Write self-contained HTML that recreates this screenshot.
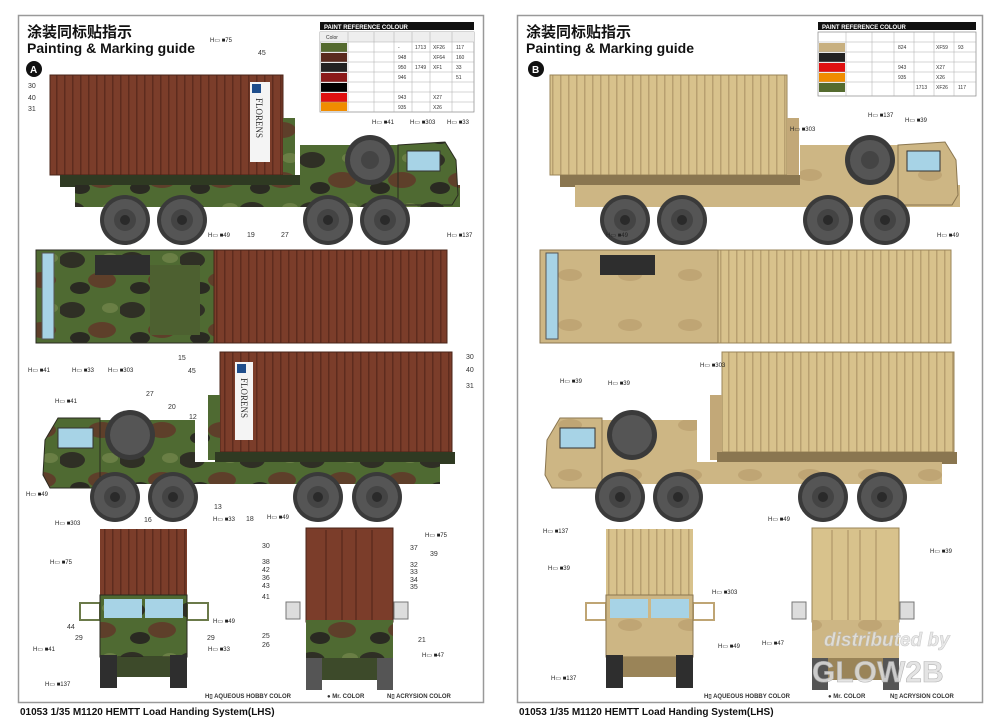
<!DOCTYPE html>
<html><head><meta charset="utf-8"><style>
html,body{margin:0;padding:0;background:#fff;}
svg{display:block;font-family:"Liberation Sans","Noto Sans CJK SC",sans-serif;}
.lbl{font-size:7px;fill:#333}
</style></head><body>
<svg width="1000" height="719" viewBox="0 0 1000 719" xmlns="http://www.w3.org/2000/svg">
<defs>
<pattern id="camo" width="60" height="50" patternUnits="userSpaceOnUse">
<rect width="60" height="50" fill="#4f6a32"/>
<ellipse cx="12" cy="10" rx="13" ry="8" fill="#2f2f25"/>
<ellipse cx="42" cy="30" rx="14" ry="8" fill="#5e3f2a"/>
<ellipse cx="20" cy="38" rx="10" ry="6" fill="#2a2a22"/>
<ellipse cx="50" cy="8" rx="8" ry="5" fill="#6a7f45"/>
</pattern>
<pattern id="ribB" width="8" height="10" patternUnits="userSpaceOnUse">
<rect width="8" height="10" fill="#7b3d2a"/><rect x="0" width="1.5" height="10" fill="#5e2c1e"/></pattern>
<pattern id="ribT" width="8" height="10" patternUnits="userSpaceOnUse">
<rect width="8" height="10" fill="#d8c28c"/><rect x="0" width="1.5" height="10" fill="#b8a070"/></pattern>
<pattern id="tan" width="60" height="50" patternUnits="userSpaceOnUse">
<rect width="60" height="50" fill="#cdb684"/><ellipse cx="30" cy="25" rx="12" ry="6" fill="#bfa574"/></pattern>
<g id="wheel"><circle r="25" fill="#3a3a3a"/><circle r="21" fill="#555"/><circle r="11" fill="#444"/><circle r="5" fill="#2a2a2a"/></g>
</defs>

<rect x="18.5" y="15.5" width="465" height="687" fill="#fff" stroke="#999" stroke-width="1.5"/>
<rect x="517.5" y="15.5" width="465" height="687" fill="#fff" stroke="#999" stroke-width="1.5"/>

<!-- ======== LEFT PAGE ======== -->
<text x="27" y="37" font-size="15" font-weight="bold" fill="#111">涂装同标贴指示</text>
<text x="27" y="53" font-size="14" font-weight="bold" fill="#111">Painting &amp; Marking guide</text>
<circle cx="34" cy="69" r="8" fill="#111"/><text x="30" y="73" font-size="10" font-weight="bold" fill="#fff">A</text>
<g transform="translate(320,22)">
<rect width="154" height="8" fill="#111"/><text x="4" y="7" font-size="6" font-weight="bold" fill="#fff">PAINT REFERENCE COLOUR</text>
<rect y="10" width="154" height="80" fill="#fff" stroke="#888" stroke-width=".7"/>
<rect y="10" width="154" height="10" fill="#eee"/>
<rect x="1" y="21" width="26" height="9" fill="#556b2f"/>
<rect x="1" y="31" width="26" height="9" fill="#5a2a1e"/>
<rect x="1" y="41" width="26" height="9" fill="#222"/>
<rect x="1" y="51" width="26" height="9" fill="#8b1a1a"/>
<rect x="1" y="61" width="26" height="9" fill="#000"/>
<rect x="1" y="71" width="26" height="9" fill="#e01010"/>
<rect x="1" y="80" width="26" height="9" fill="#f08c00"/>
<g stroke="#aaa" stroke-width=".5"><line x1="0" y1="20" x2="154" y2="20"/><line x1="0" y1="30" x2="154" y2="30"/><line x1="0" y1="40" x2="154" y2="40"/><line x1="0" y1="50" x2="154" y2="50"/><line x1="0" y1="60" x2="154" y2="60"/><line x1="0" y1="70" x2="154" y2="70"/><line x1="0" y1="80" x2="154" y2="80"/>
<line x1="28" y1="10" x2="28" y2="90"/><line x1="54" y1="10" x2="54" y2="90"/><line x1="74" y1="10" x2="74" y2="90"/><line x1="92" y1="10" x2="92" y2="90"/><line x1="110" y1="10" x2="110" y2="90"/><line x1="132" y1="10" x2="132" y2="90"/></g>
<g font-size="5" fill="#333"><text x="6" y="17">Color</text><text x="78" y="27">-</text><text x="95" y="27">1713</text><text x="113" y="27">XF26</text><text x="136" y="27">117</text>
<text x="78" y="37">948</text><text x="113" y="37">XF64</text><text x="136" y="37">160</text><text x="78" y="47">950</text><text x="95" y="47">1749</text><text x="113" y="47">XF1</text><text x="136" y="47">33</text>
<text x="78" y="57">946</text><text x="136" y="57">51</text><text x="78" y="77">943</text><text x="113" y="77">X27</text><text x="78" y="87">935</text><text x="113" y="87">X26</text></g>
</g>

<!-- side view 1 -->
<rect x="50" y="75" width="233" height="100" fill="url(#ribB)" stroke="#4a2418"/>
<rect x="250" y="82" width="20" height="80" fill="#f4f4f4"/>
<text font-size="9" fill="#333" font-family="Liberation Serif" transform="translate(256,98) rotate(90)">FLORENS</text>
<rect x="252" y="84" width="9" height="9" fill="#1f4e8c"/>
<rect x="283" y="118" width="12" height="70" fill="url(#camo)"/>
<rect x="60" y="175" width="240" height="12" fill="#2f3a22"/>
<rect x="75" y="185" width="385" height="22" fill="url(#camo)"/>
<rect x="300" y="145" width="100" height="50" fill="url(#camo)"/>
<circle cx="370" cy="160" r="25" fill="#3a3a3a"/><circle cx="370" cy="160" r="20" fill="#555"/><circle cx="370" cy="160" r="9" fill="#444"/>
<path d="M398 145 L445 142 L456 160 L458 195 L452 205 L398 205 Z" fill="url(#camo)" stroke="#2a2a20"/>
<rect x="407" y="151" width="33" height="20" fill="#a7d3e6" stroke="#333"/>
<use href="#wheel" x="125" y="220"/><use href="#wheel" x="182" y="220"/><use href="#wheel" x="328" y="220"/><use href="#wheel" x="385" y="220"/>
<!-- top view -->
<rect x="36" y="250" width="178" height="93" fill="url(#camo)" stroke="#2a2a20"/>
<rect x="42" y="253" width="12" height="86" fill="#a7d3e6" stroke="#555"/>
<rect x="95" y="255" width="55" height="20" fill="#2e2e2e"/>
<rect x="150" y="265" width="50" height="70" fill="#4d6030"/>
<rect x="214" y="250" width="233" height="93" fill="url(#ribB)" stroke="#4a2418"/>
<!-- side view 2 -->
<rect x="220" y="352" width="232" height="100" fill="url(#ribB)" stroke="#4a2418"/>
<rect x="235" y="362" width="18" height="78" fill="#f4f4f4"/>
<rect x="237" y="364" width="9" height="9" fill="#1f4e8c"/>
<text font-size="9" fill="#333" font-family="Liberation Serif" transform="translate(241,378) rotate(90)">FLORENS</text>
<rect x="208" y="395" width="12" height="65" fill="url(#camo)"/>
<rect x="215" y="452" width="240" height="12" fill="#2f3a22"/>
<rect x="50" y="462" width="390" height="22" fill="url(#camo)"/>
<rect x="100" y="420" width="95" height="50" fill="url(#camo)"/>
<circle cx="130" cy="435" r="25" fill="#3a3a3a"/><circle cx="130" cy="435" r="20" fill="#555"/>
<path d="M100 418 L58 418 L45 440 L43 475 L50 488 L100 488 Z" fill="url(#camo)" stroke="#2a2a20"/>
<rect x="58" y="428" width="35" height="20" fill="#a7d3e6" stroke="#333"/>
<use href="#wheel" x="115" y="497"/><use href="#wheel" x="173" y="497"/><use href="#wheel" x="318" y="497"/><use href="#wheel" x="377" y="497"/>
<!-- front view -->
<rect x="100" y="529" width="87" height="68" fill="url(#ribB)"/>
<rect x="80" y="603" width="20" height="17" fill="none" stroke="#6b7a4a" stroke-width="2"/>
<rect x="187" y="603" width="21" height="17" fill="none" stroke="#6b7a4a" stroke-width="2"/>
<rect x="100" y="595" width="87" height="62" fill="url(#camo)" stroke="#2a2a20"/>
<rect x="104" y="599" width="38" height="19" fill="#a7d3e6"/><rect x="145" y="599" width="38" height="19" fill="#a7d3e6"/>
<rect x="100" y="655" width="17" height="33" fill="#2e2e2e"/><rect x="170" y="655" width="17" height="33" fill="#2e2e2e"/>
<rect x="117" y="657" width="53" height="20" fill="#3d4a2a"/>
<!-- rear view -->
<rect x="306" y="528" width="87" height="94" fill="#7b3d2a" stroke="#4a2418"/>
<g stroke="#5e2c1e" stroke-width="1.5"><line x1="326" y1="530" x2="326" y2="620"/><line x1="342" y1="530" x2="342" y2="620"/><line x1="356" y1="530" x2="356" y2="620"/><line x1="372" y1="530" x2="372" y2="620"/></g>
<rect x="286" y="602" width="14" height="17" fill="#ddd" stroke="#777"/><rect x="394" y="602" width="14" height="17" fill="#ddd" stroke="#777"/>
<rect x="306" y="620" width="87" height="38" fill="url(#camo)"/>
<rect x="306" y="658" width="16" height="32" fill="#555"/><rect x="377" y="658" width="16" height="32" fill="#555"/>
<rect x="322" y="658" width="55" height="22" fill="#3d4a2a"/>

<g class="lbl">
<text x="28" y="88">30</text><text x="28" y="100">40</text><text x="28" y="111">31</text>
<text x="258" y="55">45</text><text x="247" y="237">19</text><text x="281" y="237">27</text>
<text x="178" y="360">15</text><text x="188" y="373">45</text>
<text x="466" y="359">30</text><text x="466" y="372">40</text><text x="466" y="388">31</text>
<text x="146" y="396">27</text><text x="168" y="409">20</text><text x="189" y="419">12</text>
<text x="214" y="509">13</text><text x="246" y="521">18</text><text x="144" y="522">16</text>
<text x="262" y="548">30</text><text x="262" y="564">38</text><text x="262" y="572">42</text><text x="262" y="580">36</text><text x="262" y="588">43</text><text x="262" y="599">41</text>
<text x="410" y="550">37</text><text x="430" y="556">39</text><text x="410" y="567">32</text><text x="410" y="574">33</text><text x="410" y="582">34</text><text x="410" y="589">35</text>
<text x="262" y="638">25</text><text x="262" y="647">26</text><text x="418" y="642">21</text>
<text x="67" y="629">44</text><text x="75" y="640">29</text><text x="207" y="640">29</text>
</g>
<g font-size="6" fill="#222">
<text x="210" y="42">H▭ ■75</text><text x="372" y="124">H▭ ■41</text><text x="410" y="124">H▭ ■303</text><text x="447" y="124">H▭ ■33</text>
<text x="208" y="237">H▭ ■49</text><text x="447" y="237">H▭ ■137</text>
<text x="28" y="372">H▭ ■41</text><text x="72" y="372">H▭ ■33</text><text x="108" y="372">H▭ ■303</text>
<text x="55" y="403">H▭ ■41</text><text x="26" y="496">H▭ ■49</text><text x="55" y="525">H▭ ■303</text>
<text x="213" y="521">H▭ ■33</text><text x="267" y="519">H▭ ■49</text>
<text x="50" y="564">H▭ ■75</text><text x="213" y="623">H▭ ■49</text><text x="33" y="651">H▭ ■41</text><text x="208" y="651">H▭ ■33</text><text x="45" y="686">H▭ ■137</text>
<text x="425" y="537">H▭ ■75</text><text x="422" y="657">H▭ ■47</text>
</g>
<text x="205" y="698" font-size="6" font-weight="bold" fill="#333">H▯ AQUEOUS HOBBY COLOR</text>
<text x="327" y="698" font-size="6" font-weight="bold" fill="#333">● Mr. COLOR</text>
<text x="387" y="698" font-size="6" font-weight="bold" fill="#333">N▯ ACRYSION COLOR</text>
<text x="20" y="715" font-size="10" font-weight="bold" fill="#111">01053 1/35 M1120 HEMTT Load Handing System(LHS)</text>

<!-- ======== RIGHT PAGE ======== -->
<text x="526" y="37" font-size="15" font-weight="bold" fill="#111">涂装同标贴指示</text>
<text x="526" y="53" font-size="14" font-weight="bold" fill="#111">Painting &amp; Marking guide</text>
<circle cx="536" cy="69" r="8" fill="#111"/><text x="532" y="73" font-size="10" font-weight="bold" fill="#fff">B</text>
<g transform="translate(818,22)">
<rect width="158" height="8" fill="#111"/><text x="4" y="7" font-size="6" font-weight="bold" fill="#fff">PAINT REFERENCE COLOUR</text>
<rect y="10" width="158" height="64" fill="#fff" stroke="#888" stroke-width=".7"/>
<rect x="1" y="21" width="26" height="9" fill="#c8b080"/><rect x="1" y="31" width="26" height="9" fill="#222"/>
<rect x="1" y="41" width="26" height="9" fill="#e01010"/><rect x="1" y="51" width="26" height="9" fill="#f08c00"/><rect x="1" y="61" width="26" height="9" fill="#556b2f"/>
<g stroke="#aaa" stroke-width=".5"><line x1="0" y1="20" x2="158" y2="20"/><line x1="0" y1="30" x2="158" y2="30"/><line x1="0" y1="40" x2="158" y2="40"/><line x1="0" y1="50" x2="158" y2="50"/><line x1="0" y1="60" x2="158" y2="60"/>
<line x1="28" y1="10" x2="28" y2="74"/><line x1="54" y1="10" x2="54" y2="74"/><line x1="76" y1="10" x2="76" y2="74"/><line x1="96" y1="10" x2="96" y2="74"/><line x1="116" y1="10" x2="116" y2="74"/><line x1="136" y1="10" x2="136" y2="74"/></g>
<g font-size="5" fill="#333"><text x="80" y="27">824</text><text x="118" y="27">XF59</text><text x="140" y="27">93</text><text x="80" y="47">943</text><text x="118" y="47">X27</text><text x="80" y="57">935</text><text x="118" y="57">X26</text><text x="98" y="67">1713</text><text x="118" y="67">XF26</text><text x="140" y="67">117</text></g>
</g>
<rect x="550" y="75" width="237" height="100" fill="url(#ribT)" stroke="#9a8458"/>
<rect x="787" y="118" width="12" height="70" fill="#c2a878"/>
<rect x="560" y="175" width="240" height="12" fill="#8a7650"/>
<rect x="575" y="185" width="385" height="22" fill="url(#tan)"/>
<rect x="800" y="145" width="100" height="50" fill="url(#tan)"/>
<circle cx="870" cy="160" r="25" fill="#3a3a3a"/><circle cx="870" cy="160" r="20" fill="#555"/><circle cx="870" cy="160" r="9" fill="#444"/>
<path d="M898 145 L945 142 L956 160 L958 195 L952 205 L898 205 Z" fill="url(#tan)" stroke="#8a7650"/>
<rect x="907" y="151" width="33" height="20" fill="#a7d3e6" stroke="#333"/>
<use href="#wheel" x="625" y="220"/><use href="#wheel" x="682" y="220"/><use href="#wheel" x="828" y="220"/><use href="#wheel" x="885" y="220"/>
<rect x="540" y="250" width="178" height="93" fill="url(#tan)" stroke="#8a7650"/>
<rect x="546" y="253" width="12" height="86" fill="#a7d3e6" stroke="#555"/>
<rect x="600" y="255" width="55" height="20" fill="#2e2e2e"/>
<rect x="718" y="250" width="233" height="93" fill="url(#ribT)" stroke="#9a8458"/>
<rect x="722" y="352" width="232" height="100" fill="url(#ribT)" stroke="#9a8458"/>
<rect x="710" y="395" width="12" height="65" fill="#c2a878"/>
<rect x="717" y="452" width="240" height="12" fill="#8a7650"/>
<rect x="552" y="462" width="390" height="22" fill="url(#tan)"/>
<rect x="602" y="420" width="95" height="50" fill="url(#tan)"/>
<circle cx="632" cy="435" r="25" fill="#3a3a3a"/><circle cx="632" cy="435" r="20" fill="#555"/>
<path d="M602 418 L560 418 L547 440 L545 475 L552 488 L602 488 Z" fill="url(#tan)" stroke="#8a7650"/>
<rect x="560" y="428" width="35" height="20" fill="#a7d3e6" stroke="#333"/>
<use href="#wheel" x="620" y="497"/><use href="#wheel" x="678" y="497"/><use href="#wheel" x="823" y="497"/><use href="#wheel" x="882" y="497"/>
<rect x="606" y="529" width="87" height="68" fill="url(#ribT)"/>
<rect x="586" y="603" width="20" height="17" fill="none" stroke="#bfa574" stroke-width="2"/>
<rect x="693" y="603" width="21" height="17" fill="none" stroke="#bfa574" stroke-width="2"/>
<rect x="606" y="595" width="87" height="62" fill="url(#tan)" stroke="#8a7650"/>
<rect x="610" y="599" width="38" height="19" fill="#a7d3e6"/><rect x="651" y="599" width="38" height="19" fill="#a7d3e6"/>
<rect x="606" y="655" width="17" height="33" fill="#2e2e2e"/><rect x="676" y="655" width="17" height="33" fill="#2e2e2e"/>
<rect x="623" y="657" width="53" height="20" fill="#9a8458"/>
<rect x="812" y="528" width="87" height="94" fill="#d8c28c" stroke="#9a8458"/>
<g stroke="#b8a070" stroke-width="1.5"><line x1="832" y1="530" x2="832" y2="620"/><line x1="848" y1="530" x2="848" y2="620"/><line x1="860" y1="530" x2="860" y2="620"/><line x1="876" y1="530" x2="876" y2="620"/></g>
<rect x="792" y="602" width="14" height="17" fill="#ddd" stroke="#777"/><rect x="900" y="602" width="14" height="17" fill="#ddd" stroke="#777"/>
<rect x="812" y="620" width="87" height="38" fill="url(#tan)"/>
<rect x="812" y="658" width="16" height="32" fill="#555"/><rect x="883" y="658" width="16" height="32" fill="#555"/>
<rect x="828" y="658" width="55" height="22" fill="#9a8458"/>
<text x="824" y="646" font-size="19" font-style="italic" font-weight="bold" fill="#e4e4e4" stroke="#bbb" stroke-width=".5" opacity=".85">distributed by</text>
<text x="812" y="682" font-size="30" font-weight="bold" fill="#e0e0e0" stroke="#aaa" stroke-width=".6" opacity=".85">GLOW2B</text>

<g font-size="6" fill="#222">
<text x="868" y="117">H▭ ■137</text><text x="905" y="122">H▭ ■39</text><text x="790" y="131">H▭ ■303</text>
<text x="606" y="237">H▭ ■49</text><text x="937" y="237">H▭ ■49</text>
<text x="560" y="383">H▭ ■39</text><text x="608" y="385">H▭ ■39</text><text x="700" y="367">H▭ ■303</text>
<text x="543" y="533">H▭ ■137</text><text x="768" y="521">H▭ ■49</text>
<text x="548" y="570">H▭ ■39</text><text x="712" y="594">H▭ ■303</text><text x="718" y="648">H▭ ■49</text><text x="551" y="680">H▭ ■137</text>
<text x="930" y="553">H▭ ■39</text><text x="762" y="645">H▭ ■47</text>
</g>
<text x="704" y="698" font-size="6" font-weight="bold" fill="#333">H▯ AQUEOUS HOBBY COLOR</text>
<text x="828" y="698" font-size="6" font-weight="bold" fill="#333">● Mr. COLOR</text>
<text x="890" y="698" font-size="6" font-weight="bold" fill="#333">N▯ ACRYSION COLOR</text>
<text x="519" y="715" font-size="10" font-weight="bold" fill="#111">01053 1/35 M1120 HEMTT Load Handing System(LHS)</text>
</svg>
</body></html>
